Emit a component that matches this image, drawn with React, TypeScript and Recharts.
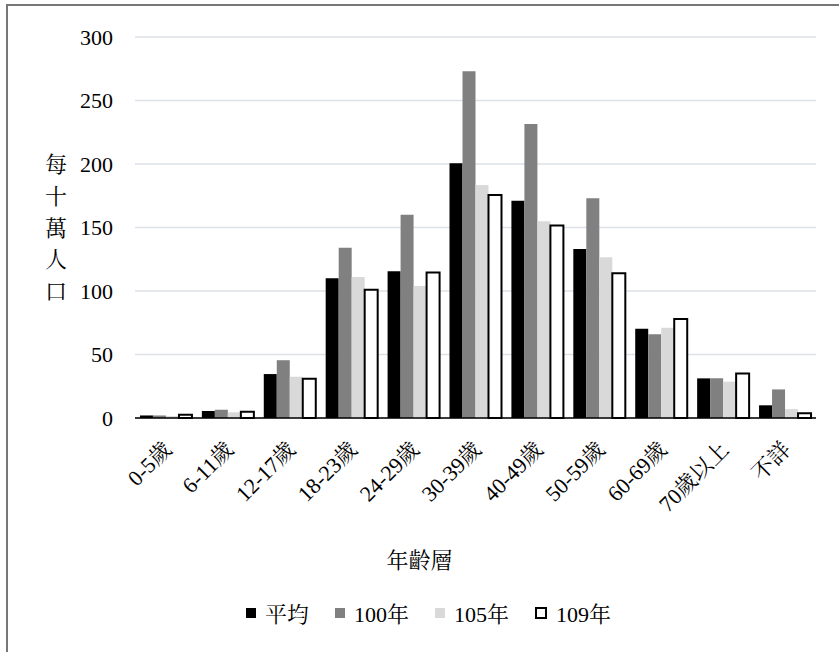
import { BarChart, Bar, XAxis, YAxis, CartesianGrid, Legend, Label } from "recharts"

const FONT = 'serif, "Noto Serif CJK TC"'

const ageGroups = ["0-5歲", "6-11歲", "12-17歲", "18-23歲", "24-29歲", "30-39歲", "40-49歲", "50-59歲", "60-69歲", "70歲以上", "不詳"]
const average = [2, 5.5, 34.6, 110, 115.5, 200.5, 171, 133, 70.3, 31.2, 10]
const year100 = [2, 6.5, 45.5, 134, 160, 273, 231.5, 173, 66, 31.3, 22.5]
const year105 = [1.5, 4.5, 32.5, 111, 104, 183.5, 155, 126.5, 71, 28.6, 7]
const year109 = [2.5, 5, 31, 101, 114.5, 175.5, 151.5, 114, 78, 35, 3.7]
const yTicks = [0, 50, 100, 150, 200, 250, 300]
const yTitle = ["每", "十", "萬", "人", "口"]

const series = [
  { key: "avg", name: "平均", fill: "#000000", stroke: "none" },
  { key: "y100", name: "100年", fill: "#808080", stroke: "none" },
  { key: "y105", name: "105年", fill: "#d9d9d9", stroke: "none" },
  { key: "y109", name: "109年", fill: "#ffffff", stroke: "#000000" },
]

const data = ageGroups.map((g, i) => ({
  group: g,
  avg: average[i],
  y100: year100[i],
  y105: year105[i],
  y109: year109[i],
}))

function AgeTick({ x, y, payload }: any) {
  return (
    <g transform={`translate(${x + 7},${y + 25})`}>
      <text x={0} y={0} textAnchor="end" transform="rotate(-45)" fontSize={22} fill="#000" style={{ fontFamily: FONT }}>
        {payload.value}
      </text>
    </g>
  )
}

function LegendBox() {
  return (
    <div style={{ display: "flex", justifyContent: "center", alignItems: "center", fontFamily: FONT, fontSize: 22, color: "#000" }}>
      {series.map((s) => (
        <div key={s.key} style={{ display: "flex", alignItems: "center", marginRight: 26 }}>
          <span
            style={{
              display: "inline-block",
              width: s.stroke === "none" ? 10 : 8,
              height: s.stroke === "none" ? 10 : 8,
              background: s.fill,
              border: s.stroke === "none" ? "none" : "2px solid #000",
              marginRight: 9,
            }}
          />
          <span>{s.name}</span>
        </div>
      ))}
    </div>
  )
}

export default function App() {
  return (
    <div style={{ position: "absolute", left: 0, top: 0, width: 839, height: 652, background: "#fff", fontFamily: FONT }}>
      <div style={{ position: "absolute", left: 6, top: 4, width: 833, height: 1.5, background: "#777" }} />
      <div style={{ position: "absolute", left: 6, top: 4, width: 1.5, height: 648, background: "#777" }} />
      <BarChart
        width={839}
        height={652}
        data={data}
        margin={{ top: 37, right: 23, bottom: 0, left: 0 }}
        barGap={0}
        barCategoryGap="8%"
        style={{ fontFamily: FONT }}
      >
        <CartesianGrid vertical={false} stroke="#dde1e7" strokeWidth={1.5} />
        <XAxis
          dataKey="group"
          height={234}
          interval={0}
          tickLine={false}
          axisLine={{ stroke: "#000", strokeWidth: 1.5 }}
          tick={<AgeTick />}
        >
          <Label
            content={() => (
              <text x={419.5} y={560} textAnchor="middle" dominantBaseline="central" fontSize={22} fill="#000" style={{ fontFamily: FONT }}>
                年齡層
              </text>
            )}
          />
        </XAxis>
        <YAxis
          width={135}
          domain={[0, 300]}
          ticks={yTicks}
          axisLine={false}
          tickLine={false}
          tickSize={0}
          tickMargin={22}
          tick={{ fill: "#000", fontSize: 22, style: { fontFamily: FONT } }}
        >
          <Label
            content={() => (
              <text textAnchor="middle" dominantBaseline="central" fontSize={22} fill="#000" style={{ fontFamily: FONT }}>
                {yTitle.map((c, i) => (
                  <tspan key={c} x={56} y={164 + i * 31.75}>
                    {c}
                  </tspan>
                ))}
              </text>
            )}
          />
        </YAxis>
        <Legend
          verticalAlign="middle"
          align="center"
          layout="horizontal"
          content={<LegendBox />}
          wrapperStyle={{ top: 597, left: 22, width: 839 }}
        />
        {series.map((s) => (
          <Bar
            key={s.key}
            dataKey={s.key}
            name={s.name}
            fill={s.fill}
            stroke={s.stroke}
            strokeWidth={s.stroke === "none" ? 0 : 2}
            isAnimationActive={false}
          />
        ))}
      </BarChart>
    </div>
  )
}
